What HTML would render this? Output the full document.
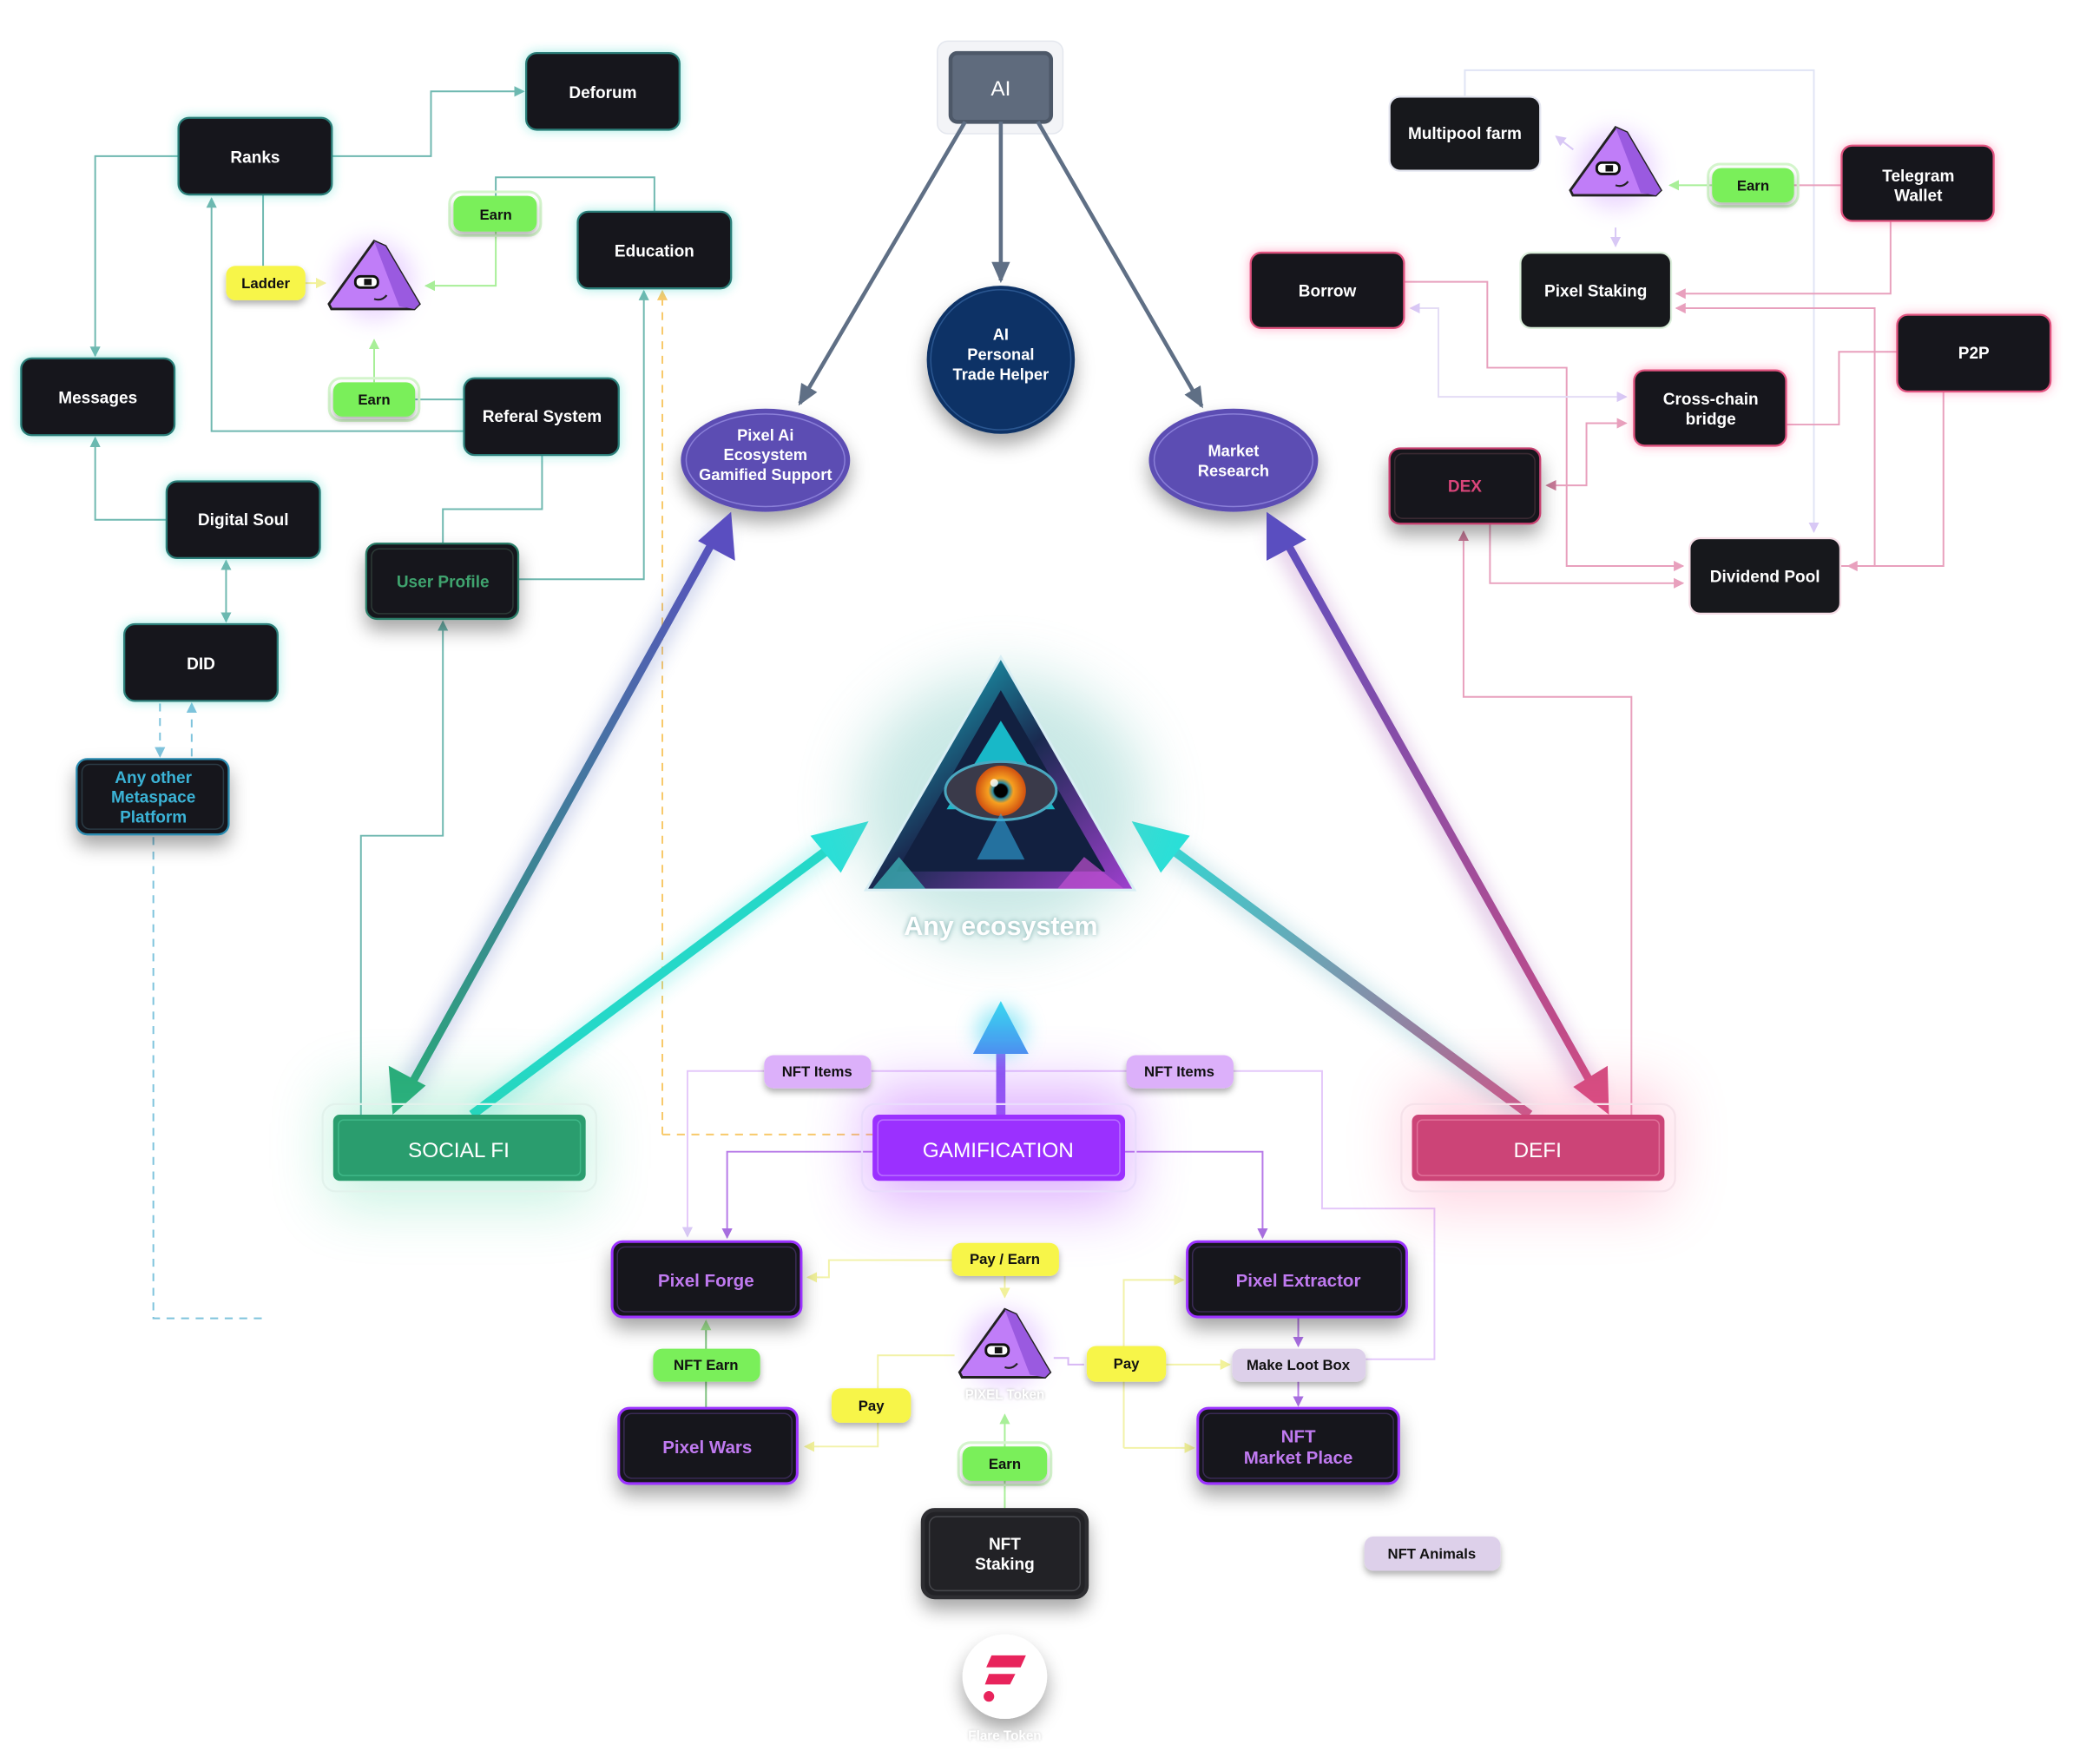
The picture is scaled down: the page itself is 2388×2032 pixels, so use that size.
<!DOCTYPE html>
<html><head><meta charset="utf-8"><style>
html,body{margin:0;padding:0;background:#fff;width:2388px;height:2032px;overflow:hidden}
svg{display:block}
text{font-family:"Liberation Sans",sans-serif;font-weight:bold}
</style></head><body>
<svg width="2388" height="2032" viewBox="0 0 1568 1334" xmlns="http://www.w3.org/2000/svg">
<defs>
<filter id="sh" x="-40%" y="-40%" width="180%" height="200%"><feDropShadow dx="0" dy="8" stdDeviation="7" flood-color="#000" flood-opacity="0.35"/></filter>
<filter id="gt" x="-40%" y="-40%" width="180%" height="180%"><feDropShadow dx="0" dy="0" stdDeviation="4" flood-color="#2fd0c0" flood-opacity="0.45"/></filter>
<filter id="gp" x="-40%" y="-40%" width="180%" height="180%"><feDropShadow dx="0" dy="0" stdDeviation="4" flood-color="#ff4f8a" flood-opacity="0.45"/></filter>
<filter id="blur8" x="-50%" y="-50%" width="200%" height="200%"><feGaussianBlur stdDeviation="8"/></filter>
<filter id="blur20" x="-80%" y="-80%" width="260%" height="260%"><feGaussianBlur stdDeviation="22"/></filter>
<filter id="pill" x="-30%" y="-50%" width="160%" height="220%"><feDropShadow dx="0" dy="3" stdDeviation="2.5" flood-color="#000" flood-opacity="0.3"/></filter>
<marker id="at" markerWidth="8" markerHeight="8" refX="7" refY="4" orient="auto" markerUnits="userSpaceOnUse"><path d="M0,0 L8,4 L0,8z" fill="#6fb8b0"/></marker>
<marker id="atl" markerWidth="8" markerHeight="8" refX="7" refY="4" orient="auto-start-reverse" markerUnits="userSpaceOnUse"><path d="M0,0 L8,4 L0,8z" fill="#6fb8b0"/></marker>
<marker id="ab" markerWidth="8" markerHeight="8" refX="7" refY="4" orient="auto-start-reverse" markerUnits="userSpaceOnUse"><path d="M0,0 L8,4 L0,8z" fill="#7ec3dc"/></marker>
<marker id="ag" markerWidth="8" markerHeight="8" refX="7" refY="4" orient="auto" markerUnits="userSpaceOnUse"><path d="M0,0 L8,4 L0,8z" fill="#a8ef98"/></marker>
<marker id="ay" markerWidth="8" markerHeight="8" refX="7" refY="4" orient="auto" markerUnits="userSpaceOnUse"><path d="M0,0 L8,4 L0,8z" fill="#f2f29a"/></marker>
<marker id="ao" markerWidth="8" markerHeight="8" refX="7" refY="4" orient="auto" markerUnits="userSpaceOnUse"><path d="M0,0 L8,4 L0,8z" fill="#f8c96a"/></marker>
<marker id="ap" markerWidth="8" markerHeight="8" refX="7" refY="4" orient="auto-start-reverse" markerUnits="userSpaceOnUse"><path d="M0,0 L8,4 L0,8z" fill="#e8a0bd"/></marker>
<marker id="apd" markerWidth="8" markerHeight="8" refX="7" refY="4" orient="auto-start-reverse" markerUnits="userSpaceOnUse"><path d="M0,0 L8,4 L0,8z" fill="#c87a98"/></marker>
<marker id="al" markerWidth="8" markerHeight="8" refX="7" refY="4" orient="auto-start-reverse" markerUnits="userSpaceOnUse"><path d="M0,0 L8,4 L0,8z" fill="#d8c8f5"/></marker>
<marker id="av" markerWidth="8" markerHeight="8" refX="7" refY="4" orient="auto" markerUnits="userSpaceOnUse"><path d="M0,0 L8,4 L0,8z" fill="#a86ee0"/></marker>
<marker id="aai" markerWidth="16" markerHeight="14" refX="14" refY="7" orient="auto" markerUnits="userSpaceOnUse"><path d="M0,0 L16,7 L0,14z" fill="#5f6f85"/></marker>
<linearGradient id="gL" x1="300" y1="840" x2="553" y2="388" gradientUnits="userSpaceOnUse"><stop offset="0" stop-color="#2aa978"/><stop offset="1" stop-color="#5a4ec0"/></linearGradient>
<linearGradient id="gR" x1="1215" y1="840" x2="960" y2="388" gradientUnits="userSpaceOnUse"><stop offset="0" stop-color="#d04c80"/><stop offset="1" stop-color="#5a4ec0"/></linearGradient>
<linearGradient id="gC" x1="1157" y1="843" x2="858" y2="622" gradientUnits="userSpaceOnUse"><stop offset="0" stop-color="#c05a8a"/><stop offset="1" stop-color="#28e0d8"/></linearGradient>
<linearGradient id="gU" x1="0" y1="757" x2="0" y2="800" gradientUnits="userSpaceOnUse"><stop offset="0" stop-color="#3ad8f0"/><stop offset="1" stop-color="#4a8ef0"/></linearGradient>
<linearGradient id="tri" x1="0" y1="0" x2="1" y2="1"><stop offset="0" stop-color="#1ad4e0"/><stop offset="0.5" stop-color="#1a2a50"/><stop offset="1" stop-color="#a040d0"/></linearGradient>
<radialGradient id="iris"><stop offset="0.25" stop-color="#000"/><stop offset="0.32" stop-color="#2a8aa0"/><stop offset="0.5" stop-color="#f7a020"/><stop offset="1" stop-color="#d05010"/></radialGradient>
<g id="masc">
 <polygon points="0,-26 9,-22 36,24 32,28 -34,28 -36,24" fill="#c07df8" stroke="#222" stroke-width="2"/>
 <polygon points="0,-26 9,-22 36,24 32,28 20,26" fill="#9a5ae0"/>
 <rect x="-15" y="2" width="18" height="9" rx="4" fill="#fff" stroke="#111" stroke-width="2"/>
 <rect x="-8" y="4" width="6" height="5" fill="#111"/>
 <path d="M0,20 q6,2 10,-3" stroke="#222" stroke-width="1.5" fill="none"/>
</g>
</defs>

<g fill="none" stroke="#6fb8b0" stroke-width="1.3">
<path d="M251,118 H326 V69 H396" marker-end="url(#at)"/>
<path d="M135,118 H72 V269" marker-end="url(#at)"/>
<path d="M199,147 V201"/>
<path d="M375,148 V134 H495 V160"/>
<path d="M314,302 H351"/>
<path d="M351,326 H160 V150" marker-end="url(#at)"/>
<path d="M410,344 V385 H335 V411"/>
<path d="M392,438 H487 V220" marker-end="url(#at)"/>
<path d="M126,393 H72 V331" marker-end="url(#at)"/>
<path d="M171,424 V470" marker-start="url(#atl)" marker-end="url(#atl)"/>
<path d="M273,843 V632 H335 V470" marker-end="url(#at)"/>
</g>
<g fill="none" stroke="#7ec3dc" stroke-width="1.3" stroke-dasharray="6 5">
<path d="M121,532 V572" marker-end="url(#ab)"/>
<path d="M145,572 V532" marker-end="url(#ab)"/>
<path d="M116,633 V997 H203"/>
</g>
<path d="M501,858 V220" fill="none" stroke="#f8c96a" stroke-width="1.3" stroke-dasharray="6 5" marker-end="url(#ao)"/>
<path d="M501,858 H660" fill="none" stroke="#f8c96a" stroke-width="1.3" stroke-dasharray="6 5"/>
<g fill="none" stroke="#a8ef98" stroke-width="1.3">
<path d="M375,175 V216 H322" marker-end="url(#ag)"/>
<path d="M283,289 V257" marker-end="url(#ag)"/>
</g>
<path d="M231,214 H246" stroke="#f2f29a" stroke-width="1.3" marker-end="url(#ay)"/>

<g fill="none" stroke="#e0e4f5" stroke-width="1.3">
<path d="M1108,73 V53 H1372 V402" marker-end="url(#al)"/>
</g>
<g fill="none" stroke="#e8a0bd" stroke-width="1.3">
<path d="M1393,140 H1357"/>
<path d="M1430,167 V222 H1268" marker-end="url(#ap)"/>
<path d="M1392,428 H1418 V233 H1268" marker-end="url(#ap)"/>
<path d="M1062,213 H1125 V278 H1185 V428 H1273" marker-end="url(#ap)"/>
<path d="M1435,266 H1391 V321 H1351"/>
<path d="M1470,296 V428 H1398" marker-end="url(#ap)"/>
<path d="M1170,367 H1200 V320 H1230" marker-start="url(#apd)" marker-end="url(#ap)"/>
<path d="M1127,396 V441 H1273" marker-end="url(#ap)"/>
<path d="M1234,843 V527 H1107 V402" marker-end="url(#apd)"/>
</g>
<path d="M1067,233 H1088 V300 H1230" fill="none" stroke="#e4dcf5" stroke-width="1.3" marker-start="url(#al)" marker-end="url(#al)"/>
<path d="M1190,113 L1177,103" stroke="#d8c8f5" stroke-width="1.3" marker-end="url(#al)"/>
<path d="M1222,172 V186" stroke="#d8c8f5" stroke-width="1.3" marker-end="url(#al)"/>
<path d="M1295,140 H1263" stroke="#a8ef98" stroke-width="1.3" marker-end="url(#ag)"/>

<g fill="none" stroke="#e4c8fa" stroke-width="1.3">
<path d="M578,810 H520 V935" marker-end="url(#al)"/>
<path d="M659,810 H852"/>
<path d="M933,810 H1000 V914 H1085 V1028 H1033"/>
</g>
<g fill="none" stroke="#b77ae8" stroke-width="1.3">
<path d="M660,871 H550 V936" marker-end="url(#av)"/>
<path d="M851,871 H955 V936" marker-end="url(#av)"/>
<path d="M982,996 V1018" marker-end="url(#av)"/>
<path d="M982,1045 V1063" marker-end="url(#av)"/>
<path d="M797,1027 H808 V1032 H820" stroke="#d8b8f5"/>
</g>
<g fill="none" stroke="#f2f2a8" stroke-width="1.3">
<path d="M720,953 H627 V966 H611" marker-end="url(#ay)"/>
<path d="M760,965 V981" marker-end="url(#ay)"/>
<path d="M722,1025 H664 V1094 H609" marker-end="url(#ay)"/>
<path d="M882,1032 H930" marker-end="url(#ay)"/>
<path d="M850,1095 V968 H895" marker-end="url(#ay)"/>
<path d="M850,1095 H903" marker-end="url(#ay)"/>
</g>
<g fill="none" stroke="#a8ef98" stroke-width="1.3">
<path d="M760,1142 V1070" marker-end="url(#ag)"/>
<path d="M534,1065 V999" marker-end="url(#ag)" stroke="#7fc27f"/>
</g>

<rect x="709" y="31" width="95" height="70" rx="8" fill="#f3f4f7" stroke="#e4e7ee"/>
<rect x="719" y="40" width="76" height="52" rx="5" fill="#5f6b7d" stroke="#4d5868" stroke-width="3"/>
<text x="757" y="72" font-size="16" fill="#fff" text-anchor="middle" style="font-weight:normal">AI</text>
<g stroke="#5f6f85" stroke-width="3" fill="none">
<path d="M730,92 L605,305" marker-end="url(#aai)"/>
<path d="M757,92 V212" marker-end="url(#aai)"/>
<path d="M785,92 L909,307" marker-end="url(#aai)"/>
</g>
<circle cx="757" cy="272" r="56" fill="#0b3366" filter="url(#sh)"/>
<circle cx="757" cy="272" r="53" fill="none" stroke="#2a5690" stroke-width="1"/>
<text font-size="12" fill="#fff" text-anchor="middle"><tspan x="757" y="257">AI</tspan><tspan x="757" y="272">Personal</tspan><tspan x="757" y="287">Trade Helper</tspan></text>

<ellipse cx="579" cy="348" rx="64" ry="39" fill="#5b4db3" filter="url(#sh)"/>
<ellipse cx="579" cy="348" rx="60" ry="35" fill="none" stroke="#8a7fd8" stroke-width="1"/>
<text font-size="12" fill="#fff" text-anchor="middle"><tspan x="579" y="333">Pixel Ai</tspan><tspan x="579" y="348">Ecosystem</tspan><tspan x="579" y="363">Gamified Support</tspan></text>
<ellipse cx="933" cy="348" rx="64" ry="39" fill="#5b4db3" filter="url(#sh)"/>
<ellipse cx="933" cy="348" rx="60" ry="35" fill="none" stroke="#8a7fd8" stroke-width="1"/>
<text font-size="12" fill="#fff" text-anchor="middle"><tspan x="933" y="345">Market</tspan><tspan x="933" y="360">Research</tspan></text>

<g filter="url(#blur8)" opacity="0.45">
<path d="M305,830 L545,400" stroke="#5a6ec0" stroke-width="10"/>
<path d="M1205,830 L965,400" stroke="#a050b0" stroke-width="10"/>
<path d="M360,843 L640,632" stroke="#28e0d8" stroke-width="10"/>
<path d="M1155,843 L870,632" stroke="#60b0c0" stroke-width="10"/>
</g>
<path d="M310,822 L540,408" stroke="url(#gL)" stroke-width="6"/>
<polygon points="553,387 556,424 528,409" fill="#5a4ec0"/>
<polygon points="297,843 294,806 322,821" fill="#2aa978"/>
<path d="M1205,822 L972,408" stroke="url(#gR)" stroke-width="6"/>
<polygon points="958,387 988,408 958,424" fill="#5a4ec0"/>
<polygon points="1217,843 1190,822 1216,806" fill="#d04c80"/>
<path d="M357,843 L635,636" stroke="#25d8c8" stroke-width="7"/>
<polygon points="657,621 636,660 613,632" fill="#28e0d8"/>
<path d="M1157,843 L878,636" stroke="url(#gC)" stroke-width="7"/>
<polygon points="856,621 900,632 878,660" fill="#28e0d8"/>
<path d="M757,843 V790" stroke="#8a5af0" stroke-width="7"/>
<circle cx="757" cy="780" r="18" fill="#4ad8f0" filter="url(#blur8)" opacity="0.6"/>
<polygon points="757,757 778,797 736,797" fill="url(#gU)"/>

<ellipse cx="757" cy="610" rx="110" ry="100" fill="#7ac8c0" filter="url(#blur20)" opacity="0.4"/>
<polygon points="757,497 858,673 655,673" fill="url(#tri)" stroke="#d8eef4" stroke-width="2"/>
<polygon points="757,522 836,659 678,659" fill="#122040"/>
<polygon points="757,545 798,612 716,612" fill="#1ad4e0" opacity="0.85"/>
<ellipse cx="757" cy="598" rx="42" ry="22" fill="#3a3a4a" stroke="#4aa8c0" stroke-width="2"/>
<circle cx="757" cy="598" r="19" fill="url(#iris)"/>
<circle cx="752" cy="592" r="3" fill="#fff" opacity="0.8"/>
<polygon points="757,615 775,650 739,650" fill="#30a8e0" opacity="0.6"/>
<polygon points="680,648 700,672 660,672" fill="#40c0c0" opacity="0.7"/>
<polygon points="820,648 850,672 800,672" fill="#c050d0" opacity="0.7"/>
<text x="757" y="707" font-size="20" fill="#fff" text-anchor="middle" style="text-shadow:0 0 6px #7aa">Any ecosystem</text>

<rect x="248" y="822" width="200" height="90" rx="10" fill="#2ad090" filter="url(#blur20)" opacity="0.25"/>
<rect x="244" y="835" width="207" height="66" rx="10" fill="none" stroke="#e2f2ec" stroke-width="1.5"/>
<rect x="252" y="843" width="191" height="50" rx="5" fill="#2a9d6e"/>
<rect x="256" y="847" width="183" height="42" rx="4" fill="none" stroke="#3fb888" stroke-width="1"/>
<text x="347" y="875" font-size="16" fill="#fff" text-anchor="middle" style="font-weight:normal">SOCIAL FI</text>

<rect x="655" y="822" width="200" height="90" rx="10" fill="#b040ff" filter="url(#blur20)" opacity="0.4"/>
<rect x="652" y="835" width="207" height="66" rx="10" fill="none" stroke="#eadcfc" stroke-width="1.5"/>
<rect x="660" y="843" width="191" height="50" rx="5" fill="#9b30ff"/>
<rect x="664" y="847" width="183" height="42" rx="4" fill="none" stroke="#b870ff" stroke-width="1"/>
<text x="755" y="875" font-size="16" fill="#fff" text-anchor="middle" style="font-weight:normal">GAMIFICATION</text>

<rect x="1063" y="822" width="200" height="90" rx="10" fill="#ff4f8a" filter="url(#blur20)" opacity="0.25"/>
<rect x="1060" y="835" width="207" height="66" rx="10" fill="none" stroke="#f6e2ea" stroke-width="1.5"/>
<rect x="1068" y="843" width="191" height="50" rx="5" fill="#cc4477"/>
<rect x="1072" y="847" width="183" height="42" rx="4" fill="none" stroke="#e07099" stroke-width="1"/>
<text x="1163" y="875" font-size="16" fill="#fff" text-anchor="middle" style="font-weight:normal">DEFI</text>

<g font-size="12.5" text-anchor="middle">
<g filter="url(#gt)" fill="#17181c" stroke="#2a7d78" stroke-width="1.5">
<rect x="398" y="40" width="116" height="58" rx="8"/>
<rect x="135" y="89" width="116" height="58" rx="8"/>
<rect x="437" y="160" width="116" height="58" rx="8"/>
<rect x="16" y="271" width="116" height="58" rx="8"/>
<rect x="351" y="286" width="117" height="58" rx="8"/>
<rect x="126" y="364" width="116" height="58" rx="8"/>
<rect x="94" y="472" width="116" height="58" rx="8"/>
</g>
<g fill="#fff">
<text x="456" y="74">Deforum</text>
<text x="193" y="123">Ranks</text>
<text x="495" y="194">Education</text>
<text x="74" y="305">Messages</text>
<text x="410" y="319">Referal System</text>
<text x="184" y="397">Digital Soul</text>
<text x="152" y="506">DID</text>
</g>
<rect x="277" y="411" width="115" height="57" rx="8" fill="#17181c" stroke="#2a7d68" stroke-width="1.5" filter="url(#sh)"/>
<rect x="281" y="415" width="107" height="49" rx="6" fill="none" stroke="#2c3a36" stroke-width="1"/>
<text x="335" y="444" fill="#3fa36e">User Profile</text>
<rect x="58" y="574" width="115" height="57" rx="8" fill="#17181c" stroke="#2a8bb0" stroke-width="1.5" filter="url(#sh)"/>
<rect x="62" y="578" width="107" height="49" rx="6" fill="none" stroke="#2a3a44" stroke-width="1"/>
<text fill="#3bb3d6"><tspan x="116" y="592">Any other</tspan><tspan x="116" y="607">Metaspace</tspan><tspan x="116" y="622">Platform</tspan></text>
</g>

<g font-size="11" text-anchor="middle" fill="#111">
<rect x="340" y="145" width="69" height="33" rx="9" fill="none" stroke="#d4f5cc" stroke-width="2"/>
<rect x="343" y="148" width="63" height="27" rx="7" fill="#7aef5a" filter="url(#pill)"/>
<text x="375" y="166">Earn</text>
<rect x="171" y="201" width="60" height="26" rx="7" fill="#f7f54a" filter="url(#pill)"/>
<text x="201" y="218">Ladder</text>
<rect x="249" y="286" width="68" height="32" rx="9" fill="none" stroke="#d4f5cc" stroke-width="2"/>
<rect x="252" y="289" width="62" height="26" rx="7" fill="#7aef5a" filter="url(#pill)"/>
<text x="283" y="306">Earn</text>
<rect x="1292" y="124" width="68" height="32" rx="9" fill="none" stroke="#d4f5cc" stroke-width="2"/>
<rect x="1295" y="127" width="62" height="26" rx="7" fill="#7aef5a" filter="url(#pill)"/>
<text x="1326" y="144">Earn</text>
</g>
<circle cx="283" cy="212" r="30" fill="#c890ff" filter="url(#blur8)" opacity="0.35"/>
<use href="#masc" transform="translate(283,207) scale(0.95)"/>
<circle cx="1222" cy="128" r="30" fill="#c890ff" filter="url(#blur8)" opacity="0.35"/>
<use href="#masc" transform="translate(1222,121) scale(0.95)"/>

<g font-size="12.5" text-anchor="middle">
<g fill="#17181c" stroke-width="1.5">
<rect x="1051" y="73" width="114" height="56" rx="8" stroke="#e4e6f0"/>
<rect x="1150" y="191" width="114" height="57" rx="8" stroke="#dcefdc"/>
<rect x="1278" y="407" width="114" height="57" rx="8" stroke="#f5dde6"/>
</g>
<g fill="#17181c" stroke="#e0527f" stroke-width="1.5" filter="url(#gp)">
<rect x="1393" y="110" width="115" height="57" rx="8"/>
<rect x="946" y="191" width="116" height="57" rx="8"/>
<rect x="1435" y="238" width="116" height="58" rx="8"/>
<rect x="1236" y="280" width="115" height="57" rx="8"/>
</g>
<rect x="1051" y="339" width="114" height="57" rx="8" fill="#17181c" stroke="#c84070" stroke-width="1.5" filter="url(#sh)"/>
<rect x="1055" y="343" width="106" height="49" rx="6" fill="none" stroke="#3a2a32" stroke-width="1"/>
<g fill="#fff">
<text x="1108" y="105">Multipool farm</text>
<text x="1207" y="224">Pixel Staking</text>
<text x="1335" y="440">Dividend Pool</text>
<text><tspan x="1451" y="137">Telegram</tspan><tspan x="1451" y="152">Wallet</tspan></text>
<text x="1004" y="224">Borrow</text>
<text x="1493" y="271">P2P</text>
<text><tspan x="1294" y="306">Cross-chain</tspan><tspan x="1294" y="321">bridge</tspan></text>
</g>
<text x="1108" y="372" fill="#d9457a">DEX</text>
</g>

<g font-size="13.5" text-anchor="middle">
<g fill="#17181c" stroke="#9b30ff" stroke-width="2" filter="url(#sh)">
<rect x="463" y="939" width="143" height="57" rx="8"/>
<rect x="898" y="939" width="166" height="57" rx="8"/>
<rect x="468" y="1065" width="135" height="57" rx="8"/>
<rect x="906" y="1065" width="152" height="57" rx="8"/>
</g>
<g fill="none" stroke="#3a2a55" stroke-width="1">
<rect x="467" y="943" width="135" height="49" rx="6"/>
<rect x="902" y="943" width="158" height="49" rx="6"/>
<rect x="472" y="1069" width="127" height="49" rx="6"/>
<rect x="910" y="1069" width="144" height="49" rx="6"/>
</g>
<g fill="#c07af0">
<text x="534" y="973">Pixel Forge</text>
<text x="982" y="973">Pixel Extractor</text>
<text x="535" y="1099">Pixel Wars</text>
<text><tspan x="982" y="1091">NFT</tspan><tspan x="982" y="1107">Market Place</tspan></text>
</g>
<rect x="698" y="1142" width="124" height="66" rx="9" fill="#222327" stroke="#2e2f33" stroke-width="3" filter="url(#sh)"/>
<rect x="703" y="1147" width="114" height="56" rx="6" fill="none" stroke="#45464b" stroke-width="1"/>
<text fill="#fff" font-size="12.5"><tspan x="760" y="1172">NFT</tspan><tspan x="760" y="1187">Staking</tspan></text>
</g>
<g font-size="11" text-anchor="middle" fill="#111">
<rect x="578" y="798" width="81" height="25" rx="7" fill="#dcb0fa" filter="url(#pill)"/>
<text x="618" y="814">NFT Items</text>
<rect x="852" y="798" width="81" height="25" rx="7" fill="#dcb0fa" filter="url(#pill)"/>
<text x="892" y="814">NFT Items</text>
<rect x="720" y="940" width="81" height="25" rx="7" fill="#f7f54a" filter="url(#pill)"/>
<text x="760" y="956">Pay / Earn</text>
<rect x="822" y="1018" width="60" height="27" rx="7" fill="#f7f54a" filter="url(#pill)"/>
<text x="852" y="1035">Pay</text>
<rect x="629" y="1050" width="60" height="26" rx="7" fill="#f7f54a" filter="url(#pill)"/>
<text x="659" y="1067">Pay</text>
<rect x="932" y="1020" width="101" height="25" rx="7" fill="#ddd0ea" filter="url(#pill)"/>
<text x="982" y="1036">Make Loot Box</text>
<rect x="494" y="1020" width="81" height="25" rx="7" fill="#7aef5a" filter="url(#pill)"/>
<text x="534" y="1036">NFT Earn</text>
<rect x="725" y="1091" width="70" height="32" rx="9" fill="none" stroke="#d4f5cc" stroke-width="2"/>
<rect x="728" y="1094" width="64" height="26" rx="7" fill="#7aef5a" filter="url(#pill)"/>
<text x="760" y="1111">Earn</text>
<rect x="1032" y="1162" width="103" height="26" rx="7" fill="#ddd0ea" filter="url(#pill)"/>
<text x="1083" y="1179">NFT Animals</text>
</g>
<circle cx="760" cy="1020" r="30" fill="#c890ff" filter="url(#blur8)" opacity="0.35"/>
<use href="#masc" transform="translate(760,1015) scale(0.95)"/>
<text x="760" y="1058" font-size="10" fill="#fff" text-anchor="middle" style="text-shadow:0 0 3px #bbb">PIXEL Token</text>

<circle cx="760" cy="1268" r="32" fill="#fff" filter="url(#sh)"/>
<path d="M750,1252 H776 L772,1261 H746 Z" fill="#e8245c"/>
<path d="M748,1266 H768 L764,1274 H745 Z" fill="#e8245c"/>
<circle cx="748" cy="1283" r="4" fill="#e8245c"/>
<text x="760" y="1316" font-size="10" fill="#fff" text-anchor="middle" style="text-shadow:0 0 3px #ccc">Flare Token</text>
</svg>
</body></html>
